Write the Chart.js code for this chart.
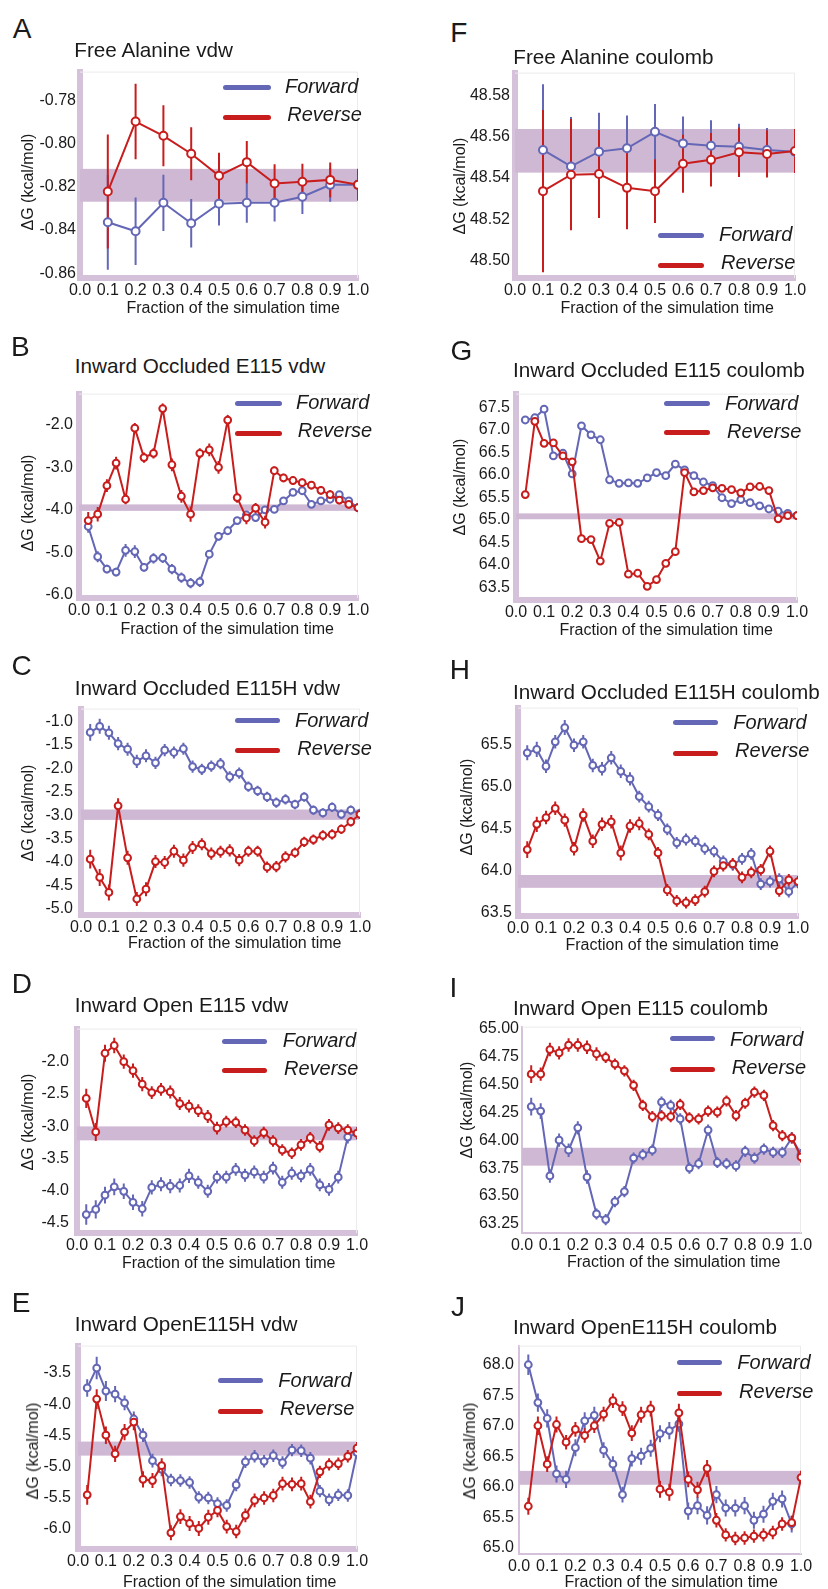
<!DOCTYPE html>
<html>
<head>
<meta charset="utf-8">
<script src="https://cdn.jsdelivr.net/npm/chart.js@4.4.1/dist/chart.umd.min.js"></script>
<style>
  html, body { margin: 0; padding: 0; background: #fff; }
  body { width: 828px; height: 1589px; position: relative; overflow: hidden;
         font-family: "Liberation Sans", Arial, Helvetica, sans-serif; color: #1a1a1a; }
  .t { position: absolute; white-space: nowrap; line-height: 1; }
  .letter { font-size: 28px; }
  .title { font-size: 20.7px; }
  .leg { font-size: 20px; font-style: italic; }
  .axt { font-size: 16px; }
  .yt { font-size: 16px; transform: translate(-50%, -50%) rotate(-90deg); }
  .swatch { position: absolute; height: 5px; border-radius: 2.5px; }
  canvas { position: absolute; }
</style>
</head>
<body>
<script>
// ---------- data ----------
const fractionCoarse = [0.1, 0.2, 0.3, 0.4, 0.5, 0.6, 0.7, 0.8, 0.9, 1.0];
const fractionFine = [0.033, 0.067, 0.1, 0.133, 0.167, 0.2, 0.233, 0.267, 0.3, 0.333,
                      0.367, 0.4, 0.433, 0.467, 0.5, 0.533, 0.567, 0.6, 0.633, 0.667,
                      0.7, 0.733, 0.767, 0.8, 0.833, 0.867, 0.9, 0.933, 0.967, 1.0];
const xTickValues = [0, 0.1, 0.2, 0.3, 0.4, 0.5, 0.6, 0.7, 0.8, 0.9, 1.0];

// A: Free Alanine vdw
const fwdA = [-0.8364, -0.8406, -0.8274, -0.8369, -0.8278, -0.8274, -0.8274, -0.8246, -0.8191, -0.8191];
const fwdErrA = [0.022, 0.0156, 0.013, 0.0112, 0.0101, 0.0092, 0.0086, 0.008, 0.0078, 0.007];
const revA = [-0.8222, -0.7898, -0.7964, -0.8047, -0.8149, -0.8086, -0.8185, -0.8177, -0.8168, -0.8191];
const revErrA = [0.0264, 0.0175, 0.0141, 0.0123, 0.0107, 0.0098, 0.0089, 0.0084, 0.008, 0.0074];
const bandA = [-0.8269, -0.8117];
const yTicksA = [-0.86, -0.84, -0.82, -0.80, -0.78];

// F: Free Alanine coulomb
const fwdF = [48.5536, 48.5456, 48.5528, 48.5544, 48.5624, 48.5568, 48.5557, 48.5552, 48.5536, 48.5528];
const fwdErrF = [0.032, 0.024, 0.0189, 0.016, 0.0135, 0.0131, 0.0123, 0.0112, 0.0107, 0.010];
const revF = [48.5336, 48.5416, 48.5419, 48.5352, 48.5336, 48.5469, 48.5488, 48.5525, 48.5517, 48.5531];
const revErrF = [0.0394, 0.027, 0.0214, 0.0201, 0.0155, 0.0141, 0.013, 0.012, 0.0115, 0.0107];
const bandF = [48.5426, 48.5638];
const yTicksF = [48.50, 48.52, 48.54, 48.56, 48.58];

// B: Inward Occluded E115 vdw
const fwdB = [-4.39, -5.10, -5.39, -5.46, -4.95, -4.98, -5.35, -5.14, -5.13, -5.39,
              -5.59, -5.72, -5.69, -5.04, -4.62, -4.49, -4.25, -4.12, -4.18, -4.00,
              -3.99, -3.79, -3.59, -3.55, -3.87, -3.79, -3.75, -3.64, -3.79, -3.95];
const fwdErrB = [0.15, 0.13, 0.10, 0.10, 0.15, 0.15, 0.10, 0.12, 0.12, 0.12,
                 0.12, 0.12, 0.12, 0.10, 0.10, 0.10, 0.08, 0.08, 0.10, 0.08,
                 0.08, 0.08, 0.08, 0.08, 0.08, 0.08, 0.08, 0.08, 0.08, 0.08];
const revB = [-4.25, -4.10, -3.43, -2.90, -3.75, -2.08, -2.77, -2.67, -1.62, -2.94,
              -3.68, -4.10, -2.67, -2.59, -3.00, -1.89, -3.71, -4.19, -3.96, -4.29,
              -3.08, -3.25, -3.31, -3.36, -3.42, -3.54, -3.64, -3.77, -3.87, -3.95];
const revErrB = [0.20, 0.17, 0.15, 0.15, 0.12, 0.12, 0.12, 0.12, 0.12, 0.15,
                 0.15, 0.18, 0.12, 0.15, 0.15, 0.12, 0.12, 0.15, 0.12, 0.15,
                 0.10, 0.10, 0.10, 0.10, 0.10, 0.10, 0.10, 0.10, 0.10, 0.10];
const bandB = [-4.023, -3.871];
const yTicksB = [-6.0, -5.0, -4.0, -3.0, -2.0];

// G: Inward Occluded E115 coulomb
const fwdG = [67.22, 67.27, 67.46, 66.42, 66.48, 66.02, 67.09, 66.89, 66.78, 65.89,
              65.81, 65.82, 65.81, 65.93, 66.05, 65.98, 66.24, 66.11, 65.98, 65.84,
              65.76, 65.49, 65.36, 65.45, 65.38, 65.31, 65.24, 65.19, 65.14, 65.09];
const fwdErrG = [0.07, 0.07, 0.07, 0.06, 0.06, 0.06, 0.06, 0.06, 0.06, 0.06,
                 0.06, 0.06, 0.06, 0.06, 0.06, 0.06, 0.06, 0.05, 0.05, 0.05,
                 0.05, 0.05, 0.05, 0.05, 0.05, 0.05, 0.05, 0.05, 0.05, 0.05];
const revG = [65.56, 67.19, 66.70, 66.71, 66.42, 66.29, 64.58, 64.56, 64.08, 64.92,
              64.94, 63.79, 63.81, 63.52, 63.67, 64.03, 64.29, 66.05, 65.62, 65.65,
              65.71, 65.70, 65.67, 65.60, 65.73, 65.74, 65.65, 65.02, 65.09, 65.09];
const revErrG = [0.08, 0.07, 0.07, 0.07, 0.06, 0.06, 0.06, 0.06, 0.06, 0.06,
                 0.06, 0.06, 0.06, 0.06, 0.06, 0.06, 0.06, 0.06, 0.05, 0.05,
                 0.05, 0.05, 0.05, 0.05, 0.05, 0.05, 0.05, 0.05, 0.05, 0.05];
const bandG = [65.011, 65.142];
const yTicksG = [63.5, 64.0, 64.5, 65.0, 65.5, 66.0, 66.5, 67.0, 67.5];

// C: Inward Occluded E115H vdw
const fwdC = [-1.23, -1.10, -1.24, -1.47, -1.59, -1.85, -1.73, -1.88, -1.61, -1.66,
              -1.58, -1.96, -2.02, -1.95, -1.90, -2.18, -2.10, -2.39, -2.48, -2.61,
              -2.73, -2.66, -2.77, -2.61, -2.89, -2.95, -2.83, -2.98, -2.89, -2.96];
const fwdErrC = [0.18, 0.16, 0.15, 0.14, 0.14, 0.14, 0.14, 0.13, 0.13, 0.13,
                 0.13, 0.13, 0.12, 0.12, 0.12, 0.12, 0.12, 0.11, 0.11, 0.11,
                 0.11, 0.11, 0.10, 0.10, 0.10, 0.10, 0.10, 0.10, 0.10, 0.10];
const revC = [-3.94, -4.33, -4.65, -2.80, -3.91, -4.79, -4.58, -3.99, -4.01, -3.77,
              -3.96, -3.69, -3.62, -3.82, -3.78, -3.75, -3.96, -3.77, -3.77, -4.11,
              -4.10, -3.89, -3.80, -3.57, -3.52, -3.43, -3.41, -3.30, -3.14, -2.98];
const revErrC = [0.20, 0.18, 0.17, 0.16, 0.15, 0.15, 0.15, 0.14, 0.14, 0.14,
                 0.14, 0.14, 0.13, 0.13, 0.13, 0.13, 0.13, 0.12, 0.12, 0.12,
                 0.12, 0.12, 0.11, 0.11, 0.11, 0.11, 0.11, 0.10, 0.10, 0.10];
const bandC = [-3.10, -2.878];
const yTicksC = [-5.0, -4.5, -4.0, -3.5, -3.0, -2.5, -2.0, -1.5, -1.0];

// H: Inward Occluded E115H coulomb
const fwdH = [65.40, 65.44, 65.24, 65.53, 65.70, 65.49, 65.53, 65.25, 65.21, 65.34,
              65.18, 65.09, 64.88, 64.76, 64.66, 64.49, 64.33, 64.37, 64.35, 64.26,
              64.23, 64.11, 64.07, 64.14, 64.20, 63.84, 63.87, 63.90, 63.75, 63.86];
const fwdErrH = [0.09, 0.09, 0.08, 0.08, 0.09, 0.08, 0.08, 0.08, 0.08, 0.08,
                 0.08, 0.08, 0.07, 0.07, 0.07, 0.07, 0.07, 0.07, 0.07, 0.07,
                 0.07, 0.07, 0.07, 0.07, 0.07, 0.07, 0.07, 0.07, 0.07, 0.07];
const revH = [64.25, 64.55, 64.63, 64.74, 64.60, 64.26, 64.66, 64.35, 64.55, 64.58,
              64.21, 64.53, 64.56, 64.43, 64.21, 63.77, 63.64, 63.62, 63.65, 63.75,
              63.99, 64.06, 64.08, 63.92, 63.98, 64.01, 64.23, 63.76, 63.89, 63.87];
const revErrH = [0.10, 0.09, 0.08, 0.08, 0.08, 0.08, 0.08, 0.08, 0.08, 0.08,
                 0.09, 0.08, 0.08, 0.07, 0.07, 0.07, 0.07, 0.07, 0.07, 0.07,
                 0.07, 0.07, 0.07, 0.07, 0.07, 0.07, 0.07, 0.07, 0.07, 0.07];
const bandH = [63.796, 63.948];
const yTicksH = [63.5, 64.0, 64.5, 65.0, 65.5];

// D: Inward Open E115 vdw
const fwdD = [-4.37, -4.29, -4.07, -3.94, -4.01, -4.18, -4.28, -3.95, -3.90, -3.93,
              -3.92, -3.77, -3.87, -4.01, -3.79, -3.79, -3.67, -3.76, -3.71, -3.79,
              -3.65, -3.87, -3.73, -3.77, -3.67, -3.91, -3.98, -3.79, -3.17, -3.11];
const fwdErrD = [0.16, 0.14, 0.13, 0.13, 0.12, 0.12, 0.12, 0.11, 0.11, 0.11,
                 0.11, 0.11, 0.10, 0.10, 0.10, 0.10, 0.10, 0.10, 0.10, 0.10,
                 0.10, 0.10, 0.10, 0.10, 0.10, 0.10, 0.10, 0.10, 0.10, 0.10];
const revD = [-2.57, -3.09, -1.87, -1.75, -2.00, -2.14, -2.35, -2.48, -2.43, -2.47,
              -2.65, -2.69, -2.76, -2.85, -3.03, -2.93, -2.94, -3.06, -3.23, -3.10,
              -3.23, -3.37, -3.42, -3.29, -3.18, -3.32, -2.98, -3.03, -3.06, -3.11];
const revErrD = [0.15, 0.14, 0.13, 0.12, 0.11, 0.11, 0.11, 0.10, 0.10, 0.10,
                 0.10, 0.10, 0.10, 0.10, 0.10, 0.09, 0.09, 0.09, 0.09, 0.09,
                 0.09, 0.09, 0.09, 0.09, 0.09, 0.09, 0.09, 0.09, 0.09, 0.09];
const bandD = [-3.22, -3.004];
const yTicksD = [-4.5, -4.0, -3.5, -3.0, -2.5, -2.0];

// I: Inward Open E115 coulomb
const fwdI = [64.30, 64.26, 63.68, 64.00, 63.91, 64.11, 63.67, 63.34, 63.29, 63.45,
              63.54, 63.84, 63.87, 63.91, 64.34, 64.31, 64.19, 63.75, 63.79, 64.09,
              63.80, 63.79, 63.77, 63.90, 63.84, 63.92, 63.89, 63.89, 64.02, 63.87];
const fwdErrI = [0.08, 0.07, 0.06, 0.06, 0.06, 0.06, 0.06, 0.05, 0.05, 0.05,
                 0.05, 0.05, 0.05, 0.05, 0.05, 0.05, 0.05, 0.05, 0.05, 0.05,
                 0.05, 0.05, 0.05, 0.05, 0.05, 0.05, 0.05, 0.05, 0.05, 0.05];
const revI = [64.59, 64.59, 64.81, 64.78, 64.85, 64.85, 64.83, 64.77, 64.74, 64.68,
              64.62, 64.49, 64.31, 64.21, 64.22, 64.21, 64.32, 64.20, 64.19, 64.26,
              64.25, 64.35, 64.22, 64.33, 64.43, 64.40, 64.13, 64.04, 64.02, 63.85];
const revErrI = [0.08, 0.06, 0.06, 0.06, 0.06, 0.06, 0.06, 0.06, 0.05, 0.05,
                 0.05, 0.05, 0.05, 0.05, 0.05, 0.05, 0.05, 0.05, 0.05, 0.05,
                 0.05, 0.05, 0.05, 0.05, 0.05, 0.05, 0.05, 0.05, 0.05, 0.05];
const bandI = [63.772, 63.932];
const yTicksI = [63.25, 63.50, 63.75, 64.00, 64.25, 64.50, 64.75, 65.00];

// E: Inward OpenE115H vdw
const fwdE = [-3.74, -3.42, -3.79, -3.84, -3.98, -4.24, -4.50, -4.91, -5.05, -5.22,
              -5.23, -5.26, -5.50, -5.51, -5.60, -5.63, -5.30, -4.93, -4.84, -4.92,
              -4.83, -4.94, -4.74, -4.75, -4.87, -5.40, -5.54, -5.46, -5.47, -4.78];
const fwdErrE = [0.14, 0.18, 0.16, 0.13, 0.12, 0.12, 0.11, 0.11, 0.11, 0.10,
                 0.10, 0.10, 0.10, 0.10, 0.10, 0.10, 0.10, 0.10, 0.10, 0.10,
                 0.10, 0.10, 0.10, 0.10, 0.10, 0.10, 0.10, 0.10, 0.10, 0.10];
const revE = [-5.46, -3.92, -4.50, -4.80, -4.45, -4.29, -5.21, -5.23, -4.99, -6.07,
              -5.81, -5.92, -6.00, -5.82, -5.71, -5.97, -6.05, -5.79, -5.55, -5.51,
              -5.47, -5.28, -5.29, -5.28, -5.57, -5.09, -4.97, -4.96, -4.84, -4.71];
const revErrE = [0.16, 0.16, 0.14, 0.13, 0.13, 0.13, 0.13, 0.12, 0.12, 0.12,
                 0.12, 0.12, 0.12, 0.12, 0.11, 0.11, 0.11, 0.11, 0.11, 0.11,
                 0.11, 0.11, 0.11, 0.11, 0.11, 0.10, 0.10, 0.10, 0.10, 0.10];
const bandE = [-4.829, -4.603];
const yTicksE = [-6.0, -5.5, -5.0, -4.5, -4.0, -3.5];

// J: Inward OpenE115H coulomb
const fwdJ = [68.00, 67.38, 67.12, 66.21, 66.12, 66.64, 67.08, 67.17, 66.60, 66.37,
              65.87, 66.46, 66.50, 66.63, 66.87, 66.92, 67.03, 65.60, 65.69, 65.53,
              65.87, 65.65, 65.65, 65.69, 65.45, 65.55, 65.76, 65.80, 65.39, null];
const fwdErrJ = [0.17, 0.15, 0.15, 0.14, 0.14, 0.14, 0.14, 0.14, 0.13, 0.13,
                 0.13, 0.13, 0.14, 0.14, 0.14, 0.14, 0.13, 0.14, 0.14, 0.15,
                 0.14, 0.14, 0.14, 0.14, 0.14, 0.14, 0.14, 0.14, 0.14, 0];
const revJ = [65.68, 67.00, 66.37, 67.02, 66.73, 66.94, 66.84, 67.00, 67.19, 67.41,
              67.28, 66.88, 67.18, 67.28, 65.96, 65.91, 67.21, 66.12, 65.95, 66.30,
              65.45, 65.21, 65.15, 65.16, 65.19, 65.21, 65.25, 65.39, 65.41, 66.15];
const revErrJ = [0.14, 0.15, 0.13, 0.13, 0.12, 0.12, 0.12, 0.12, 0.12, 0.12,
                 0.12, 0.13, 0.13, 0.13, 0.14, 0.14, 0.15, 0.13, 0.13, 0.14,
                 0.12, 0.11, 0.11, 0.11, 0.11, 0.11, 0.11, 0.11, 0.11, 0.11];
const bandJ = [66.032, 66.26];
const yTicksJ = [65.0, 65.5, 66.0, 66.5, 67.0, 67.5, 68.0];

// ---------- styling ----------
const FONT = '"Liberation Sans", Arial, Helvetica, sans-serif';
const BLUE = '#6467b5';
const RED = '#c81d1d';
const BAND = '#cfb8d4';
const AXIS = '#d6c1da';
const FRAME = '#ebebeb';
const TEXT = '#1a1a1a';

const YW = 70, PT = 12, PR = 16, XH = 32;

// ---------- panel layout ----------
const panels = [
  { letter: 'A', title: 'Free Alanine vdw', x: fractionCoarse,
    fwd: fwdA, fwdErr: fwdErrA, rev: revA, revErr: revErrA, band: bandA, yTicks: yTicksA, dec: 2,
    box: { l: 80, r: 358, t: 70, b: 278, min: -0.8622, max: -0.7667 }, bw: 6, ypad: 4, pr: 4,
    letterPos: [12.7, 38.3], titlePos: [74.3, 57.3], xTitle: [126.5, 314], yTitle: [28.3, 182],
    leg: { x1: 223, x2: 271, yF: 87.3, yR: 117.7, tF: [285, 93.3], tR: [287.3, 120.7] } },
  { letter: 'F', title: 'Free Alanine coulomb', x: fractionCoarse,
    fwd: fwdF, fwdErr: fwdErrF, rev: revF, revErr: revErrF, band: bandF, yTicks: yTicksF, dec: 2,
    box: { l: 515, r: 795, t: 70, b: 278, min: 48.4914, max: 48.5912 }, bw: 6, ypad: 5, pr: 4,
    letterPos: [450.3, 42.7], titlePos: [513.3, 65], xTitle: [560.5, 314], yTitle: [460, 186],
    leg: { x1: 658, x2: 704, yF: 235, yR: 265, tF: [719, 240.7], tR: [721, 268.7] } },
  { letter: 'B', title: 'Inward Occluded E115 vdw', x: fractionFine,
    fwd: fwdB, fwdErr: fwdErrB, rev: revB, revErr: revErrB, band: bandB, yTicks: yTicksB, dec: 1,
    box: { l: 79, r: 358, t: 390, b: 598, min: -6.07, max: -1.268 }, bw: 6, ypad: 6, pr: 3.4,
    letterPos: [11.1, 356.7], titlePos: [74.8, 374], xTitle: [120.5, 634.8], yTitle: [28.3, 502.5],
    leg: { x1: 235, x2: 282, yF: 403.3, yR: 433.3, tF: [296, 409], tR: [297.7, 437.3] } },
  { letter: 'G', title: 'Inward Occluded E115 coulomb', x: fractionFine,
    fwd: fwdG, fwdErr: fwdErrG, rev: revG, revErr: revErrG, band: bandG, yTicks: yTicksG, dec: 1,
    box: { l: 516, r: 797, t: 390, b: 600, min: 63.215, max: 67.807 }, bw: 6, ypad: 6, pr: 3.4,
    letterPos: [450.6, 360.5], titlePos: [513, 377.7], xTitle: [559.5, 635.8], yTitle: [460, 486.7],
    leg: { x1: 664, x2: 710, yF: 403.3, yR: 432.3, tF: [725, 410], tR: [727, 438.3] } },
  { letter: 'C', title: 'Inward Occluded E115H vdw', x: fractionFine,
    fwd: fwdC, fwdErr: fwdErrC, rev: revC, revErr: revErrC, band: bandC, yTicks: yTicksC, dec: 1,
    box: { l: 81, r: 360, t: 703, b: 915, min: -5.132, max: -0.722 }, bw: 6, ypad: 8, pr: 3.4,
    letterPos: [11.6, 676], titlePos: [74.8, 695.7], xTitle: [128, 948.5], yTitle: [28.3, 812.5],
    leg: { x1: 235, x2: 280, yF: 720, yR: 750, tF: [295, 727.3], tR: [297.3, 755] } },
  { letter: 'H', title: 'Inward Occluded E115H coulomb', x: fractionFine,
    fwd: fwdH, fwdErr: fwdErrH, rev: revH, revErr: revErrH, band: bandH, yTicks: yTicksH, dec: 1,
    box: { l: 518, r: 798, t: 704, b: 916, min: 63.461, max: 65.937 }, bw: 6, ypad: 6, pr: 3.4,
    letterPos: [449.8, 679.3], titlePos: [513, 700], xTitle: [565.5, 950.8], yTitle: [466.7, 806.7],
    leg: { x1: 673, x2: 718, yF: 722.7, yR: 753.3, tF: [733.3, 729.3], tR: [735, 757.3] } },
  { letter: 'D', title: 'Inward Open E115 vdw', x: fractionFine,
    fwd: fwdD, fwdErr: fwdErrD, rev: revD, revErr: revErrD, band: bandD, yTicks: yTicksD, dec: 1,
    box: { l: 77, r: 357, t: 1023, b: 1233, min: -4.656, max: -1.488 }, bw: 6, ypad: 8, pr: 3.4,
    letterPos: [11.8, 993.3], titlePos: [74.8, 1012.3], xTitle: [122, 1269], yTitle: [28.3, 1121.7],
    leg: { x1: 222, x2: 267, yF: 1041, yR: 1070.7, tF: [282.7, 1047], tR: [284, 1075] } },
  { letter: 'I', title: 'Inward Open E115 coulomb', x: fractionFine,
    fwd: fwdI, fwdErr: fwdErrI, rev: revI, revErr: revErrI, band: bandI, yTicks: yTicksI, dec: 2,
    box: { l: 522, r: 801, t: 1026, b: 1233, min: 63.170, max: 65.015 }, bw: 2, ypad: 3, pr: 3.4,
    letterPos: [449.4, 997.7], titlePos: [513, 1015.7], xTitle: [567, 1267.5], yTitle: [466.7, 1110],
    leg: { x1: 670, x2: 715, yF: 1038.3, yR: 1069, tF: [730, 1045.7], tR: [731.7, 1073.7] } },
  { letter: 'E', title: 'Inward OpenE115H vdw', x: fractionFine,
    fwd: fwdE, fwdErr: fwdErrE, rev: revE, revErr: revErrE, band: bandE, yTicks: yTicksE, dec: 1,
    box: { l: 78, r: 357, t: 1341, b: 1549, min: -6.331, max: -3.059 }, bw: 6, ypad: 7, pr: 3.4,
    letterPos: [11.8, 1312.7], titlePos: [74.8, 1331.7], xTitle: [123, 1587.3], yTitle: [33.3, 1450.8],
    leg: { x1: 218, x2: 263, yF: 1380, yR: 1411.7, tF: [278.3, 1387.3], tR: [280, 1415] } },
  { letter: 'J', title: 'Inward OpenE115H coulomb', x: fractionFine,
    fwd: fwdJ, fwdErr: fwdErrJ, rev: revJ, revErr: revErrJ, band: bandJ, yTicks: yTicksJ, dec: 1,
    box: { l: 519, r: 801, t: 1343, b: 1554, min: 64.897, max: 68.314 }, bw: 2, ypad: 5, pr: 3.4,
    letterPos: [451, 1316.7], titlePos: [513, 1335], xTitle: [564.5, 1587.3], yTitle: [470, 1450.8],
    leg: { x1: 677, x2: 722, yF: 1362.7, yR: 1393.3, tF: [737.3, 1369.3], tR: [739, 1397.7] } }
];

// ---------- plugins ----------
// shaded reference band across the full x range
const bandPlugin = {
  id: 'refBand',
  beforeDatasetsDraw(chart, args, opts) {
    const { ctx, chartArea: a, scales: { y } } = chart;
    const y1 = y.getPixelForValue(opts.range[1]);
    const y0 = y.getPixelForValue(opts.range[0]);
    ctx.save();
    ctx.fillStyle = BAND;
    ctx.fillRect(a.left, y1, a.right - a.left, y0 - y1);
    // faint frame along the top and right edges
    ctx.strokeStyle = FRAME;
    ctx.lineWidth = 1;
    ctx.beginPath();
    ctx.moveTo(a.left, a.top + 0.5);
    ctx.lineTo(a.right - 0.5, a.top + 0.5);
    ctx.lineTo(a.right - 0.5, a.bottom);
    ctx.stroke();
    ctx.restore();
  }
};

// vertical error bars, one per point, from each dataset's `errors` list
const errorBarPlugin = {
  id: 'errorBars',
  beforeDatasetsDraw(chart) {
    const { ctx, chartArea: a, scales: { x, y } } = chart;
    ctx.save();
    ctx.beginPath();
    ctx.rect(a.left, a.top, a.right - a.left, a.bottom - a.top);
    ctx.clip();
    chart.data.datasets.forEach(ds => {
      ctx.strokeStyle = ds.borderColor;
      ctx.lineWidth = 2;
      ds.data.forEach((p, i) => {
        if (p.y === null || !ds.errors[i]) return;
        const px = x.getPixelForValue(p.x);
        ctx.beginPath();
        ctx.moveTo(px, y.getPixelForValue(p.y - ds.errors[i]));
        ctx.lineTo(px, y.getPixelForValue(p.y + ds.errors[i]));
        ctx.stroke();
      });
    });
    ctx.restore();
  }
};

// ---------- helpers ----------
function addText(text, cls, left, baseline, fs) {
  const d = document.createElement('div');
  d.className = 't ' + cls;
  d.textContent = text;
  d.style.left = left + 'px';
  d.style.top = (baseline - 0.8465 * fs) + 'px';
  document.body.appendChild(d);
}
function addYTitle(cx, cy) {
  const d = document.createElement('div');
  d.className = 't yt';
  d.textContent = 'ΔG (kcal/mol)';
  d.style.left = cx + 'px';
  d.style.top = cy + 'px';
  document.body.appendChild(d);
}
function addSwatch(x1, x2, y, color) {
  const d = document.createElement('div');
  d.className = 'swatch';
  d.style.left = x1 + 'px';
  d.style.width = (x2 - x1) + 'px';
  d.style.top = (y - 2.5) + 'px';
  d.style.background = color;
  document.body.appendChild(d);
}

function series(label, xs, ys, errs, color, order, pr) {
  return {
    label,
    data: xs.map((x, i) => ({ x, y: ys[i] })),
    errors: errs,
    order,
    borderColor: color,
    backgroundColor: color,
    borderWidth: 2,
    tension: 0,
    pointRadius: pr,
    pointBorderWidth: 2,
    pointBackgroundColor: '#ffffff',
    pointBorderColor: color,
    spanGaps: false
  };
}

function buildPanel(p) {
  const bx = p.box;
  const w = (bx.r - bx.l) + YW + PR;
  const h = (bx.b - bx.t) + PT + XH;
  const cv = document.createElement('canvas');
  cv.width = w; cv.height = h;
  cv.style.width = w + 'px'; cv.style.height = h + 'px';
  cv.style.left = (bx.l - YW) + 'px';
  cv.style.top = (bx.t - PT) + 'px';
  document.body.appendChild(cv);

  const tickFont = { family: FONT, size: 16 };
  new Chart(cv, {
    type: 'line',
    data: {
      datasets: [
        series('Forward', p.x, p.fwd, p.fwdErr, BLUE, 2, p.pr),
        series('Reverse', p.x, p.rev, p.revErr, RED, 1, p.pr)
      ]
    },
    options: {
      responsive: false,
      animation: false,
      devicePixelRatio: 1,
      layout: { padding: { top: PT, right: PR, left: 0, bottom: 0 } },
      plugins: {
        legend: { display: false },
        tooltip: { enabled: false },
        refBand: { range: p.band }
      },
      scales: {
        x: {
          type: 'linear', min: 0, max: 1, bounds: 'data',
          afterFit: s => { s.height = XH; },
          afterBuildTicks: s => { s.ticks = xTickValues.map(v => ({ value: v })); },
          ticks: { autoSkip: false, maxRotation: 0, minRotation: 0, padding: 3,
                   color: TEXT, font: tickFont, callback: v => Number(v).toFixed(1) },
          grid: { display: false, drawTicks: false },
          border: { display: true, color: AXIS, width: p.bw }
        },
        y: {
          type: 'linear', min: bx.min, max: bx.max, bounds: 'data',
          afterFit: s => { s.width = YW; },
          afterBuildTicks: s => { s.ticks = p.yTicks.map(v => ({ value: v })); },
          ticks: { autoSkip: false, padding: p.ypad, color: TEXT, font: tickFont,
                   callback: v => Number(v).toFixed(p.dec) },
          grid: { display: false, drawTicks: false },
          border: { display: true, color: AXIS, width: p.bw }
        }
      }
    },
    plugins: [bandPlugin, errorBarPlugin]
  });

  // panel letter, title, axis titles and legend
  addText(p.letter, 'letter', p.letterPos[0], p.letterPos[1], 28);
  addText(p.title, 'title', p.titlePos[0], p.titlePos[1], 20.7);
  addText('Fraction of the simulation time', 'axt', p.xTitle[0], p.xTitle[1], 16);
  addYTitle(p.yTitle[0], p.yTitle[1]);
  addSwatch(p.leg.x1, p.leg.x2, p.leg.yF, BLUE);
  addSwatch(p.leg.x1, p.leg.x2, p.leg.yR, RED);
  addText('Forward', 'leg', p.leg.tF[0], p.leg.tF[1], 20);
  addText('Reverse', 'leg', p.leg.tR[0], p.leg.tR[1], 20);
}

panels.forEach(buildPanel);
</script>
</body>
</html>
